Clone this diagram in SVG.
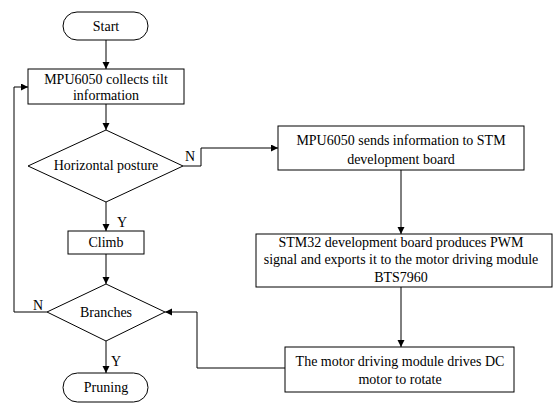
<svg xmlns="http://www.w3.org/2000/svg" width="555" height="408" viewBox="0 0 555 408" font-family="'Liberation Serif', 'Times New Roman', Times, serif" font-size="14">
<defs>
<marker id="ah" markerWidth="8" markerHeight="8" refX="7" refY="3.5" orient="auto" markerUnits="userSpaceOnUse">
<path d="M0,0 L7,3.5 L0,7 Z" fill="#000"/>
</marker>
<style>
.s{fill:#fff;stroke:#000;stroke-width:1}
.c{fill:none;stroke:#000;stroke-width:1;marker-end:url(#ah)}
text{fill:#000;text-anchor:middle}
</style>
</defs>
<rect width="555" height="408" fill="#fff"/>
<g id="connectors">
<line class="c" x1="106" y1="40" x2="106" y2="69"/>
<line class="c" x1="106" y1="104" x2="106" y2="130"/>
<polyline class="c" points="183,166 201,166 201,148 278,148"/>
<line class="c" x1="106" y1="202" x2="106" y2="231"/>
<line class="c" x1="106" y1="254" x2="106" y2="284"/>
<line class="c" x1="401" y1="170" x2="401" y2="234"/>
<line class="c" x1="401" y1="287" x2="401" y2="347"/>
<polyline class="c" points="285,368 197,368 197,312 165,312"/>
<polyline class="c" points="47,312 14,312 14,87 28,87"/>
<line class="c" x1="106" y1="341" x2="106" y2="373"/>
<text x="190" y="161">N</text>
<text x="122" y="227">Y</text>
<text x="38" y="310">N</text>
<text x="116" y="366">Y</text>
</g>
<g id="start">
<rect class="s" x="63" y="12" width="85" height="28" rx="14" ry="14"/>
<text x="106" y="31">Start</text>
</g>
<g id="collect">
<rect class="s" x="28" y="69" width="156" height="35"/>
<text x="106" y="84">MPU6050 collects tilt</text>
<text x="106" y="100">information</text>
</g>
<g id="horizontal">
<polygon class="s" points="106,130 183,166 106,202 28,166"/>
<text x="106" y="170">Horizontal posture</text>
</g>
<g id="climb">
<rect class="s" x="68" y="231" width="76" height="23"/>
<text x="106" y="247">Climb</text>
</g>
<g id="branches">
<polygon class="s" points="106,284 165,312 106,341 47,312"/>
<text x="106" y="317">Branches</text>
</g>
<g id="pruning">
<rect class="s" x="63" y="373" width="85" height="29" rx="14.5" ry="14.5"/>
<text x="106" y="392">Pruning</text>
</g>
<g id="sends">
<rect class="s" x="278" y="126" width="246" height="44"/>
<text x="401" y="145">MPU6050 sends information to STM</text>
<text x="401" y="164">development board</text>
</g>
<g id="stm32">
<rect class="s" x="256" y="234" width="296" height="53"/>
<text x="401" y="247">STM32 development board produces PWM</text>
<text x="401" y="264">signal and exports it to the motor driving module</text>
<text x="401" y="282">BTS7960</text>
</g>
<g id="motor">
<rect class="s" x="285" y="347" width="229" height="45"/>
<text x="400" y="366">The motor driving module drives DC</text>
<text x="400" y="384">motor to rotate</text>
</g>
</svg>
